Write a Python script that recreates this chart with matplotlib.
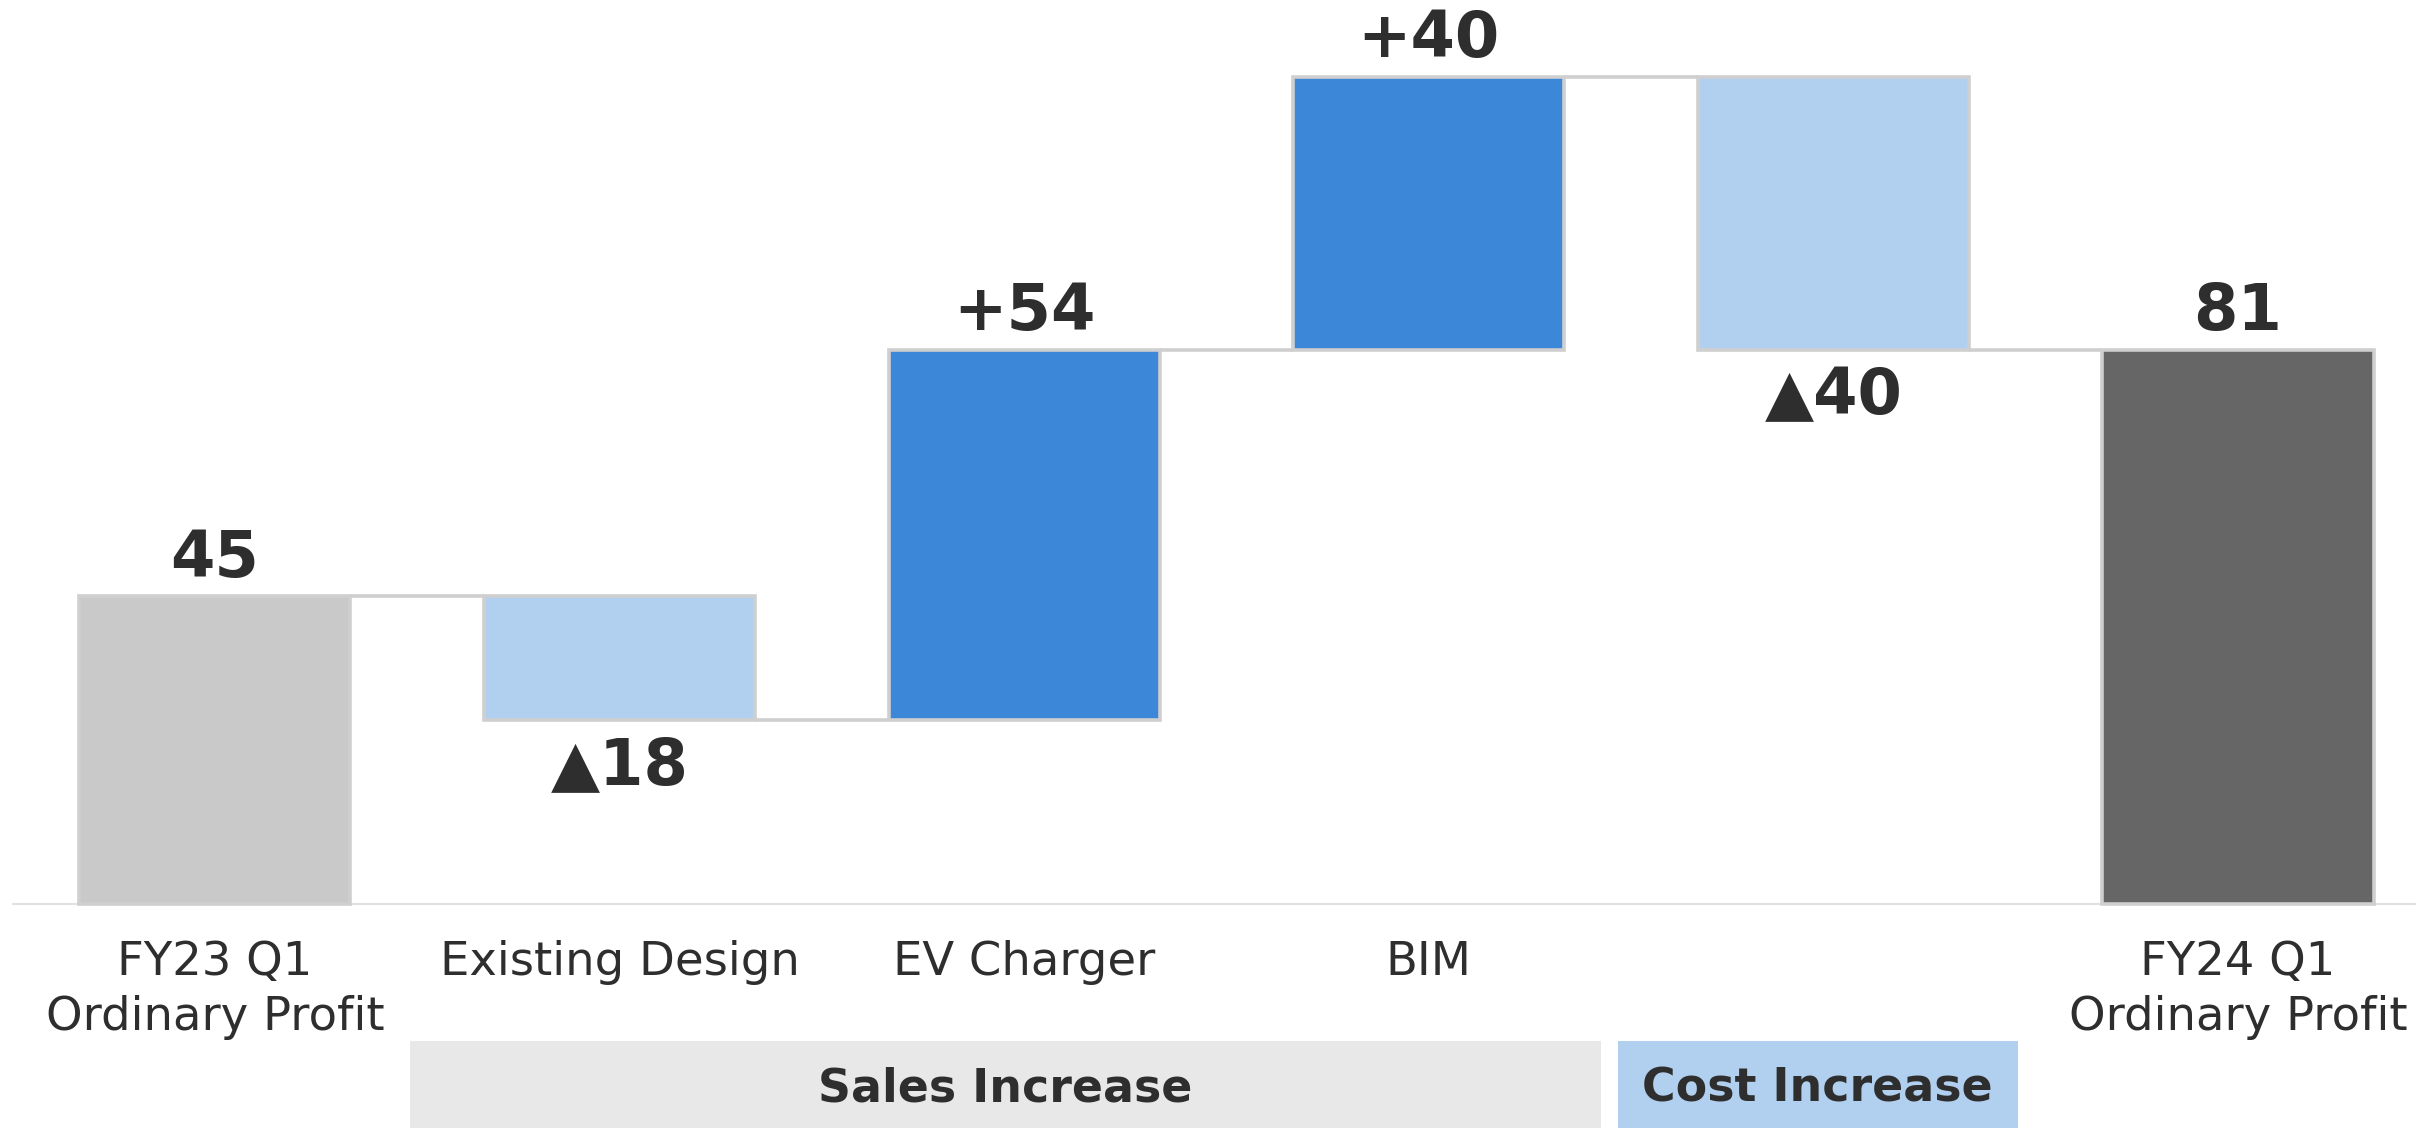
import numpy as np
import matplotlib.pyplot as plt
from matplotlib.patches import Rectangle

# data
categories = ["FY23 Q1\nOrdinary Profit", "Existing Design", "EV Charger", "BIM", "", "FY24 Q1\nOrdinary Profit"]
start_value = 45
deltas = [-18, 54, 40, -40]
end_value = 81
groups = ["Sales Increase", "Cost Increase"]

# colours
c_total_start = "#c9c9c9"
c_total_end = "#666666"
c_up = "#3c87d8"
c_down = "#b1cfee"
c_edge = "#cfcfcf"
c_text = "#2e2e2e"

#building the waterfall
levels = np.concatenate([[start_value], start_value + np.cumsum(deltas)])
bottoms = [0]
heights = [start_value]
colors = [c_total_start]
for i, d in enumerate(deltas):
    lo = min(levels[i], levels[i + 1])
    bottoms.append(lo)
    heights.append(abs(d))
    colors.append(c_up if d > 0 else c_down)
bottoms.append(0)
heights.append(end_value)
colors.append(c_total_end)

x = np.arange(len(categories))
width = 0.67

fig = plt.figure(figsize=(24.16, 11.28), dpi=100)
ax = fig.add_axes([0, 0, 1, 1])
ax.set_xlim(-0.531, 5.44)
ax.set_ylim(-32.7, 132.2)
ax.axis('off')

# baseline
ax.plot([-0.5, 5.44], [0, 0], color="#e2e2e2", lw=1.5, zorder=1)

ax.bar(x, heights, bottom=bottoms, width=width, color=colors,
       edgecolor=c_edge, linewidth=2.6, zorder=3)

#connector lines between bars
for i in range(len(x) - 1):
    lvl = levels[i]
    ax.plot([x[i] + width / 2, x[i + 1] - width / 2], [lvl, lvl],
            color=c_edge, lw=2.6, zorder=2, solid_capstyle='butt')

# value labels
labels = [str(start_value)]
for d in deltas:
    labels.append(("+%d" % d) if d > 0 else ("\u25b2%d" % abs(d)))
labels.append(str(end_value))

for i in range(len(x)):
    top = bottoms[i] + heights[i]
    if i in (0, len(x) - 1) or deltas[i - 1] > 0:
        ax.annotate(labels[i], (x[i], top), xytext=(0, 5), textcoords='offset points',
                    ha='center', va='bottom', fontsize=46, fontweight='bold', color=c_text)
    else:
        ax.annotate(labels[i], (x[i], bottoms[i]), xytext=(0, -11), textcoords='offset points',
                    ha='center', va='top', fontsize=46, fontweight='bold', color=c_text)

# category labels
for i, cat in enumerate(categories):
    ax.text(x[i], -5.2, cat, ha='center', va='top', fontsize=33.5, color=c_text,
            linespacing=1.3)

# group boxes
box_y0, box_y1 = -32.7, -20.0
ax.add_patch(Rectangle((0.482, box_y0), 3.425 - 0.482, box_y1 - box_y0,
                       facecolor="#e8e8e8", edgecolor='none', zorder=1))
ax.add_patch(Rectangle((3.467, box_y0), 4.456 - 3.467, box_y1 - box_y0,
                       facecolor=c_down, edgecolor='none', zorder=1))
ax.text((0.482 + 3.425) / 2, (box_y0 + box_y1) / 2 - 0.6, groups[0], ha='center', va='center',
        fontsize=33, fontweight='bold', color=c_text)
ax.text((3.467 + 4.456) / 2, (box_y0 + box_y1) / 2 - 0.6, groups[1], ha='center', va='center',
        fontsize=33, fontweight='bold', color=c_text)

fig.savefig('out.png', dpi=100)
